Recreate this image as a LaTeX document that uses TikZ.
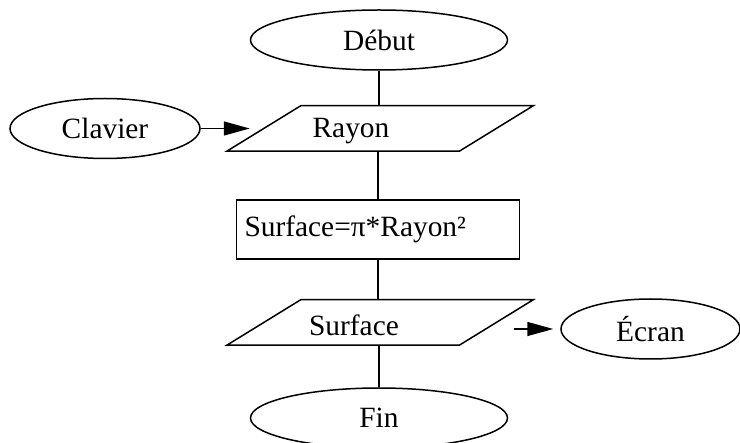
\documentclass[tikz,border=0pt]{standalone}
\usepackage{fontspec}
\setmainfont{Liberation Serif}
\usetikzlibrary{shapes.geometric,arrows.meta}
\newcommand\ioshape[1]{\draw ([xshift=-18.5pt]#1.south west) -- ([xshift=18.5pt]#1.north west)
        -- ([xshift=18.5pt]#1.north east) -- ([xshift=-18.5pt]#1.south east) -- cycle;}
\begin{document}
\begin{tikzpicture}
   [x=0.5pt,y=-0.5pt,line width=0.75pt,
    every node/.style={font=\fontsize{14.7}{17}\selectfont,inner sep=0pt},
    term/.style={draw,ellipse,minimum height=30pt},
    io/.style={rectangle,minimum width=115.5pt,minimum height=22pt},
    proc/.style={draw,rectangle,minimum width=141.5pt,minimum height=29.5pt,
           text width=133.5pt,align=left},
    flow/.style={-{Triangle[length=13pt,width=7pt]}}]
\useasboundingbox (0,0) rectangle (740,443);

\node[term,minimum width=128.5pt] (debut) at (379,40) {Début};
\node[io] (rayon) at (380,128.5) {};
\ioshape{rayon}
\node (rayonT) at (351,131) {Rayon};
\node[term,minimum width=95pt] (clavier) at (105,128.5) {Clavier};
\node[proc] (calcul) at (378,229.5) {Surface=π*Rayon²};
\node[io] (surface) at (380,322.5) {};
\ioshape{surface}
\node (surfaceT) at (354,325) {Surface};
\node[term,minimum width=89.5pt] (ecran) at (650.5,329) {Écran};
\node[term,minimum width=128.5pt] (fin) at (379,418) {Fin};

\draw (debut) -- (debut |- rayon.north);
\draw (rayon.south -| calcul) -- (calcul);
\draw (calcul) -- (calcul |- surface.north);
\draw (surface.south -| fin) -- (fin);
\draw[flow,shorten >=7pt] (clavier) -- (rayon);
\draw[flow,shorten <=9pt,shorten >=3.5pt] (surface.east |- ecran) -- (ecran);
\end{tikzpicture}
\end{document}
